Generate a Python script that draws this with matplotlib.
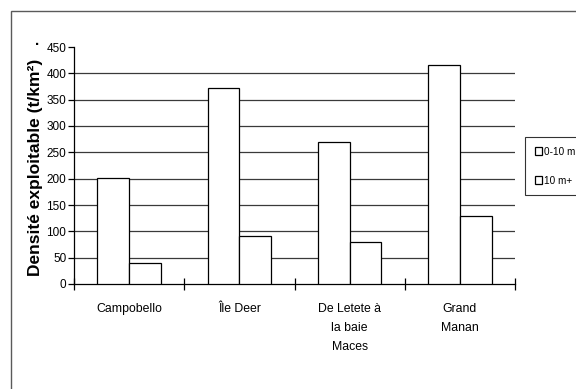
import matplotlib
matplotlib.use("Agg")
import matplotlib.pyplot as plt
from matplotlib.patches import Rectangle
import numpy as np

plt.rcParams['font.family'] = ['Liberation Sans', 'DejaVu Sans']

categories = ["Campobello", "Île Deer", "De Letete à\nla baie\nMaces", "Grand\nManan"]
series_names = ["0-10 m", "10 m+"]
shallow = [202, 372, 270, 415]
deep = [40, 91, 80, 129]
y_ticks = [0, 50, 100, 150, 200, 250, 300, 350, 400, 450]

fig = plt.figure(figsize=(5.76, 3.89), dpi=100)
fig.patch.set_facecolor("white")

# outer chart-area frame (runs off the right and bottom edges)
top = 1 - 11 / 389
fig.patches.append(Rectangle((11 / 576, -0.2), 1.2, top + 0.2,
                             transform=fig.transFigure, fill=False,
                             edgecolor="#5a5a5a", linewidth=1.0, zorder=0))

ax = fig.add_axes([74 / 576, 1 - 284 / 389, 441 / 576, 237 / 389])
ax.set_facecolor("none")

x = np.arange(len(categories))
w = 0.2875
ax.bar(x - w / 2, shallow, w, color="white", edgecolor="black", linewidth=0.9,
       label=series_names[0], zorder=3)
ax.bar(x + w / 2, deep, w, color="white", edgecolor="black", linewidth=0.9,
       label=series_names[1], zorder=3)

ax.set_xlim(-0.5, len(categories) - 0.5)
ax.set_ylim(0, 450)
ax.set_yticks(y_ticks)
ax.set_yticklabels([str(v) for v in y_ticks], fontsize=8.5)
for v in y_ticks[1:-1]:
    ax.axhline(v, color="#3a3a3a", linewidth=0.9, zorder=1)

ax.set_xticks(np.arange(len(categories) + 1) - 0.5)
ax.set_xticklabels([])
ax.set_xticks(x, minor=True)
ax.set_xticklabels(categories, minor=True, fontsize=8.8, linespacing=1.75,
                   va="top")
ax.tick_params(axis="x", which="major", direction="inout", length=8, width=0.9)
ax.tick_params(axis="x", which="minor", length=0, pad=14)
ax.tick_params(axis="y", direction="out", length=4.5, width=0.9, pad=1)

for s in ["top", "right"]:
    ax.spines[s].set_visible(False)
for s in ["left", "bottom"]:
    ax.spines[s].set_linewidth(0.9)
    ax.spines[s].set_color("black")

fig.text(36 / 576, 1 - 167 / 389, "Densité exploitable (t/km²)", rotation=90,
         fontsize=12.5, fontweight="bold", ha="center", va="center")
fig.text(38 / 576, 1 - 45 / 389, "·", fontsize=11, fontweight="bold",
         ha="center", va="center")

leg = ax.legend(loc="upper left", bbox_to_anchor=(525 / 576, 1 - 137 / 389),
                bbox_transform=fig.transFigure, fontsize=7.2, frameon=True,
                fancybox=False, edgecolor="black", handlelength=0.75,
                handleheight=0.75, handletextpad=0.15, labelspacing=1.9,
                borderpad=0.95, borderaxespad=0)
leg.get_frame().set_linewidth(0.8)

fig.savefig("out.png", dpi=100)
